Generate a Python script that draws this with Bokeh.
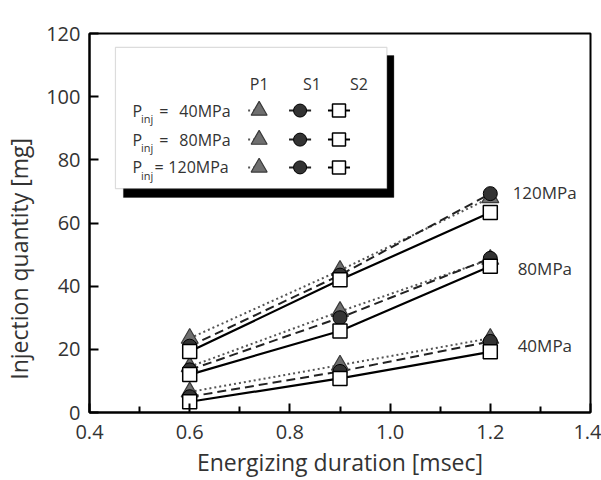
from bokeh.plotting import figure
from bokeh.models import Label, BoxAnnotation, NumeralTickFormatter, FixedTicker, ColumnDataSource
from bokeh.embed import file_html
from bokeh.resources import INLINE

# Energizing duration [msec]
duration = [0.6, 0.9, 1.2]
pressures = ["40MPa", "80MPa", "120MPa"]

# Injection quantity [mg] for each injector type and rail pressure
p1_40 = [6.5, 15.0, 23.5]
p1_80 = [14.5, 32.0, 48.5]
p1_120 = [23.5, 45.0, 68.0]

s1_40 = [5.0, 13.0, 22.5]
s1_80 = [13.5, 30.0, 48.8]
s1_120 = [21.0, 43.5, 69.3]

s2_40 = [3.4, 10.8, 19.2]
s2_80 = [12.0, 25.8, 46.3]
s2_120 = [19.3, 42.0, 63.3]

FONT = "Open Sans"
TXT = "#333333"

p = figure(width=601, height=480, output_backend="svg", toolbar_location=None,
           x_range=(0.4, 1.4), y_range=(0, 120),
           min_border_left=88, min_border_right=11, min_border_top=33, min_border_bottom=68)
p.grid.visible = False
p.outline_line_color = "black"
p.outline_line_width = 2
p.background_fill_color = "white"
p.border_fill_color = "white"

# axes
for ax in (p.xaxis[0], p.yaxis[0]):
    ax.axis_line_width = 2
    ax.axis_line_color = "black"
    ax.major_tick_in = 9
    ax.major_tick_out = 0
    ax.minor_tick_in = 6
    ax.minor_tick_out = 0
    ax.major_tick_line_width = 2
    ax.minor_tick_line_width = 2
    ax.major_label_text_font = FONT
    ax.major_label_text_font_size = "20px"
    ax.major_label_text_color = TXT
    ax.axis_label_text_font = FONT
    ax.axis_label_text_font_size = "23px"
    ax.axis_label_text_font_style = "normal"
    ax.axis_label_text_color = TXT

p.xaxis.ticker = FixedTicker(ticks=[0.4, 0.6, 0.8, 1.0, 1.2, 1.4],
                             minor_ticks=[0.5, 0.7, 0.9, 1.1, 1.3])
p.xaxis.formatter = NumeralTickFormatter(format="0.0")
p.xaxis.axis_label = "Energizing duration [msec]"
p.xaxis.major_label_standoff = 12
p.xaxis.axis_label_standoff = 4

p.yaxis.ticker = FixedTicker(ticks=[0, 20, 40, 60, 80, 100, 120])
p.yaxis.minor_tick_line_color = None
p.yaxis.major_label_standoff = 9
# trailing no-break spaces push the title a little below the frame centre
p.yaxis.axis_label = "Injection quantity [mg]" + "\u00a0" * 12
p.yaxis.axis_label_standoff = 8

P1_FILL = "#6f6f6f"
S1_FILL = "#333333"

# P1: dotted grey line, triangles
for ys in (p1_40, p1_80, p1_120):
    p.line(duration, ys, line_color="#555555", line_width=2, line_dash="2 3")
# S1: dashed line, dark circles
for ys in (s1_40, s1_80, s1_120):
    p.line(duration, ys, line_color="#222222", line_width=2, line_dash="9 5")
# S2: solid line, open squares
for ys in (s2_40, s2_80, s2_120):
    p.line(duration, ys, line_color="black", line_width=2.2)

for ys in (p1_40, p1_80, p1_120):
    p.scatter(duration, ys, marker="triangle", size=17, fill_color=P1_FILL,
              line_color="#3a3a3a", line_width=1.2)
for ys in (s1_40, s1_80, s1_120):
    p.scatter(duration, ys, marker="circle", size=14, fill_color=S1_FILL,
              line_color="black", line_width=1)
for ys in (s2_40, s2_80, s2_120):
    p.scatter(duration, ys, marker="square", size=14, fill_color="white",
              line_color="black", line_width=1.5)

# pressure labels at the end of each group
end_y = [s1_40[-1] - 1.3, s1_80[-1] - 3.2, s1_120[-1] + 0.4]
end_x = [1.2546, 1.2546, 1.2446]
for name, xx, yy in zip(pressures, end_x, end_y):
    p.add_layout(Label(x=xx, y=yy, text=name, text_font=FONT, text_font_size="17px",
                       text_color=TXT, text_baseline="middle", text_align="left"))

# legend panel with drop shadow
p.add_layout(BoxAnnotation(left=0.4677, right=1.0076, top=113.0, bottom=68.1, level="underlay",
                           fill_color="black", fill_alpha=1, line_color="black"))
p.add_layout(BoxAnnotation(left=0.4518, right=0.9936, top=115.6, bottom=70.9, level="underlay",
                           fill_color="white", fill_alpha=1, line_color="#8a8a8a", line_width=1.2))

head_y = 103.9
for name, xx in zip(["P1", "S1", "S2"], [0.7386, 0.8442, 0.9378]):
    p.add_layout(Label(x=xx, y=head_y, text=name, text_font=FONT, text_font_size="16px",
                       text_color=TXT, text_baseline="middle", text_align="center"))

row_y = [95.6, 86.4, 77.6]
eq_x = [0.5394, 0.5394, 0.5295]
val_x = [0.5793, 0.5793, 0.5574]
for name, yy, ex, vx in zip(pressures, row_y, eq_x, val_x):
    p.add_layout(Label(x=0.4856, y=yy, text="P", text_font=FONT, text_font_size="16px",
                       text_color=TXT, text_baseline="middle"))
    p.add_layout(Label(x=0.5026, y=yy - 2.6, text="inj", text_font=FONT, text_font_size="11px",
                       text_color=TXT, text_baseline="middle"))
    p.add_layout(Label(x=ex, y=yy, text="=", text_font=FONT, text_font_size="16px",
                       text_color=TXT, text_baseline="middle"))
    p.add_layout(Label(x=vx, y=yy, text=name, text_font=FONT, text_font_size="16px",
                       text_color=TXT, text_baseline="middle"))

tri_x, cir_x, sq_x = 0.7386, 0.8203, 0.898
stub = 0.022
leg = ColumnDataSource(dict(y=row_y, tri=[tri_x] * 3, cir=[cir_x] * 3, sq=[sq_x] * 3))
p.segment(x0=tri_x - stub, x1=tri_x, y0="y", y1="y", source=leg,
          line_color="#555555", line_width=2, line_dash="2 3")
p.segment(x0=cir_x - stub, x1=cir_x + stub, y0="y", y1="y", source=leg,
          line_color="#222222", line_width=2)
p.segment(x0=sq_x - stub, x1=sq_x + stub, y0="y", y1="y", source=leg,
          line_color="black", line_width=2)
p.scatter(x="tri", y="y", source=leg, marker="triangle", size=16, fill_color=P1_FILL,
          line_color="#3a3a3a", line_width=1.2)
p.scatter(x="cir", y="y", source=leg, marker="circle", size=13, fill_color=S1_FILL,
          line_color="black", line_width=1)
p.scatter(x="sq", y="y", source=leg, marker="square", size=13, fill_color="white",
          line_color="black", line_width=1.5)

open("out.html", "w").write(file_html(p, INLINE))
